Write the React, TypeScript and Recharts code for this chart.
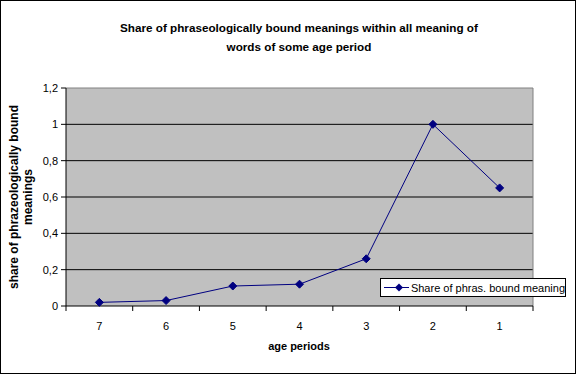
import React from "react";
import { LineChart, Line, XAxis, YAxis, CartesianGrid, ReferenceLine } from "recharts";

const categories = ["7", "6", "5", "4", "3", "2", "1"];
const shareValues = [0.02, 0.03, 0.11, 0.12, 0.26, 1.0, 0.65];
const yTicks = [0, 0.2, 0.4, 0.6, 0.8, 1, 1.2];
const gridValues = [0.2, 0.4, 0.6, 0.8, 1];
const seriesName = "Share of phras. bound meaning";
const titleLines = ["Share of phraseologically bound meanings within all meaning of", "words of some age period"];
const yLabelLines = ["share of phrazeologically bound", "meanings"];
const xLabel = "age periods";

const data = categories.map((c, i) => ({ x: i + 0.5, label: c, v: shareValues[i] }));
const xTicks: number[] = [];
for (let i = 0; i <= categories.length; i++) {
  xTicks.push(i);
  if (i < categories.length) xTicks.push(i + 0.5);
}

const FONT = "'Liberation Sans', Arial, sans-serif";
const NAVY = "#000080";

const XTick = (props: any) => {
  const { x, y, payload } = props;
  const v = payload.value;
  if (Number.isInteger(v)) {
    return <line x1={x} x2={x} y1={y} y2={y + 5} stroke="#000" strokeWidth={1} />;
  }
  const idx = Math.floor(v);
  return (
    <text x={x} y={y + 24} textAnchor="middle" fontSize={11} fontFamily={FONT} fill="#000">
      {categories[idx]}
    </text>
  );
};

const Diamond = (props: any) => {
  const { cx, cy } = props;
  if (cx == null || cy == null) return null;
  const r = 4;
  return (
    <polygon
      points={`${cx},${cy - r} ${cx + r},${cy} ${cx},${cy + r} ${cx - r},${cy}`}
      fill={NAVY}
      stroke={NAVY}
    />
  );
};

const YLabel = (props: any) => {
  const { viewBox } = props;
  const cy = viewBox.y + viewBox.height / 2;
  return (
    <text
      transform={`translate(18, ${cy}) rotate(-90)`}
      textAnchor="middle"
      fontSize={12}
      fontWeight="bold"
      fontFamily={FONT}
      fill="#000"
    >
      <tspan x={0} dy={0}>{yLabelLines[0]}</tspan>
      <tspan x={0} dy={14}>{yLabelLines[1]}</tspan>
    </text>
  );
};

export default function App() {
  return (
    <div style={{ position: "absolute", left: 0, top: 0, width: 576, height: 374, background: "#fff" }}>
      <div
        style={{
          position: "absolute",
          left: 0,
          top: 0,
          width: 574,
          height: 372,
          border: "1px solid #000",
        }}
      />
      <div
        style={{
          position: "absolute",
          left: 0,
          top: 18,
          width: 598,
          textAlign: "center",
          fontFamily: FONT,
          fontWeight: "bold",
          fontSize: 11.7,
          lineHeight: "19px",
          color: "#000",
        }}
      >
        <div>{titleLines[0]}</div>
        <div>{titleLines[1]}</div>
      </div>
      <div
        style={{
          position: "absolute",
          left: 0,
          top: 340,
          width: 598,
          textAlign: "center",
          fontFamily: FONT,
          fontWeight: "bold",
          fontSize: 11,
        }}
      >
        {xLabel}
      </div>
      <LineChart
        width={576}
        height={374}
        data={data}
        margin={{ top: 88, right: 43, bottom: 0, left: 0 }}
        style={{ position: "absolute", left: 0, top: 0 }}
      >
        <CartesianGrid
          horizontal={true}
          vertical={false}
          stroke="#000"
          fill="#C0C0C0"
          horizontalValues={gridValues}
        />
        <ReferenceLine y={1.2} stroke="#808080" strokeWidth={1} />
        <ReferenceLine x={categories.length} stroke="#808080" strokeWidth={1} />
        <XAxis
          dataKey="x"
          type="number"
          domain={[0, categories.length]}
          ticks={xTicks}
          interval={0}
          tickLine={false}
          tickSize={0}
          tickMargin={0}
          axisLine={{ stroke: "#000" }}
          tick={<XTick />}
          height={68}
        />
        <YAxis
          type="number"
          domain={[0, 1.2]}
          ticks={yTicks}
          interval={0}
          width={66}
          tickSize={5}
          tickMargin={3}
          tickLine={{ stroke: "#000" }}
          axisLine={{ stroke: "#000" }}
          tick={{ fontSize: 11, fontFamily: FONT, fill: "#000" }}
          tickFormatter={(v: number) => String(v).replace(".", ",")}
          label={<YLabel />}
        />
        <Line
          type="linear"
          dataKey="v"
          name={seriesName}
          stroke={NAVY}
          strokeWidth={1}
          dot={<Diamond />}
          activeDot={false}
          isAnimationActive={false}
        />
      </LineChart>
      <div
        style={{
          position: "absolute",
          left: 380,
          top: 278,
          width: 186,
          height: 19,
          border: "1px solid #000",
          background: "#fff",
          display: "flex",
          alignItems: "center",
          fontFamily: FONT,
          fontSize: 11,
          boxSizing: "border-box",
          whiteSpace: "nowrap",
        }}
      >
        <svg width={32} height={11} style={{ marginLeft: 2, marginRight: 2 }}>
          <line x1={1} x2={31} y1={5.5} y2={5.5} stroke={NAVY} strokeWidth={1} />
          <polygon points="16,1.5 20,5.5 16,9.5 12,5.5" fill={NAVY} />
        </svg>
        <span>{seriesName}</span>
      </div>
    </div>
  );
}
